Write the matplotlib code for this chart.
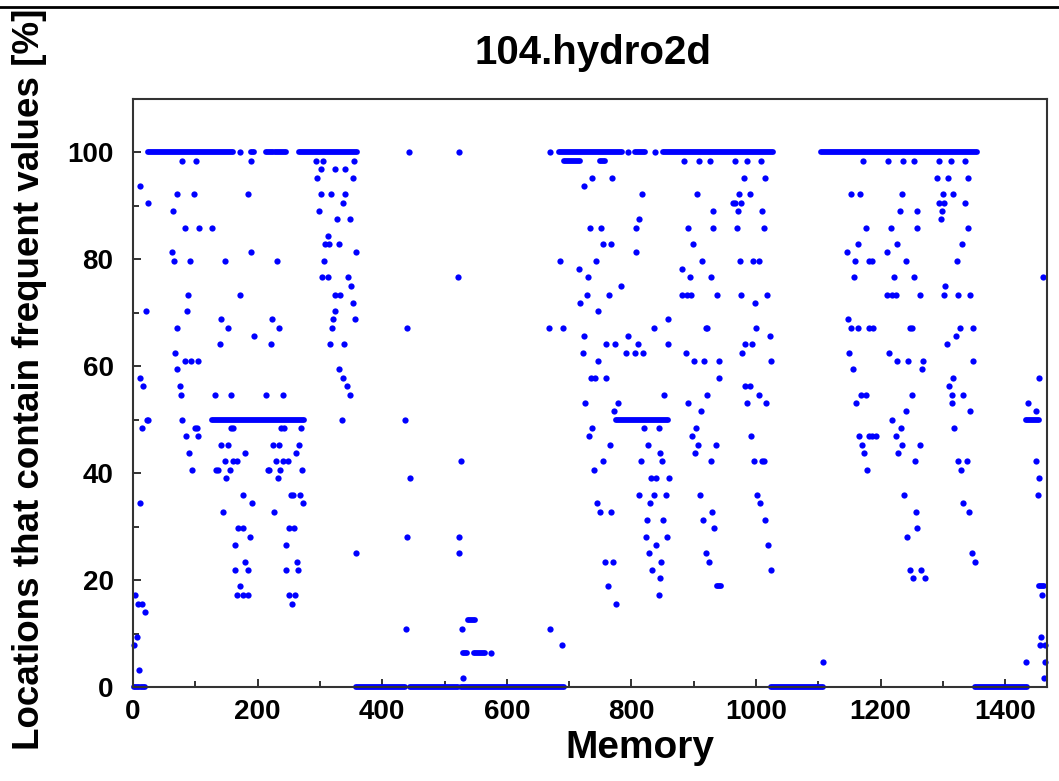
import matplotlib.pyplot as plt
from matplotlib.ticker import MultipleLocator
from matplotlib.lines import Line2D

# share of locations holding frequent values, grouped by level (k/64 steps)
pct_levels = [100.0, 98.4, 96.9, 95.3, 93.8, 92.2, 90.6, 89.1, 87.5, 85.9,
              84.4, 82.8, 81.3, 79.7, 78.1, 76.6, 75.0, 73.4, 71.9, 70.3,
              68.8, 67.2, 65.6, 64.1, 62.5, 60.9, 59.4, 57.8, 56.3, 54.7,
              53.1, 51.6, 50.0, 48.4, 46.9, 45.3, 43.8, 42.2, 40.6, 39.1,
              37.5, 35.9, 34.4, 32.8, 31.3, 29.7, 28.1, 26.6, 25.0, 23.4,
              21.9, 20.3, 18.8, 17.2, 15.6, 14.1, 12.5, 10.9, 9.4, 7.8,
              6.3, 4.7, 3.1, 1.6]

mem_by_level = [
    [171, 443, 524, 669, 795, 838],
    [79, 101, 190, 294, 305, 354, 885, 908, 926, 967, 986, 1008, 1171, 1212, 1236, 1254, 1294, 1313, 1335],
    [301, 324, 341],
    [295, 353, 737, 769, 981, 1014, 1291, 1308, 1341],
    [11, 724],
    [70, 98, 185, 302, 318, 341, 817, 905, 973, 990, 1153, 1167, 1235, 1300, 1317],
    [24, 337, 963, 966, 976, 1293, 1302, 1336],
    [64, 299, 931, 971, 1009, 1231, 1259, 1298],
    [328, 349, 813, 1297],
    [83, 106, 127, 734, 751, 808, 891, 931, 969, 1013, 1176, 1217, 1258, 1341],
    [313],
    [308, 315, 331, 755, 768, 899, 1163, 1226, 1331],
    [62, 189, 358, 808, 1146, 1210],
    [66, 92, 148, 231, 307, 686, 743, 913, 974, 995, 1005, 1159, 1182, 1186, 1240, 1322],
    [716, 882],
    [303, 313, 345, 521, 730, 894, 927, 1157, 1221, 1254, 1460],
    [350, 783, 1304],
    [89, 172, 325, 333, 728, 764, 882, 889, 896, 937, 976, 1018, 1210, 1218, 1225, 1263, 1301, 1325, 1344],
    [353, 718, 999],
    [21, 87, 325, 747],
    [142, 223, 321, 356, 859, 1147],
    [71, 153, 235, 320, 440, 667, 690, 836, 919, 922, 1000, 1153, 1164, 1182, 1188, 1247, 1250, 1327, 1349],
    [194, 724, 795, 1022, 1321],
    [140, 221, 316, 339, 760, 773, 810, 859, 982, 994, 1307],
    [67, 722, 792, 806, 819, 887, 978, 1150, 1213],
    [83, 93, 105, 747, 900, 917, 941, 1024, 1227, 1244, 1268, 1349],
    [71, 330, 1155, 1267],
    [11, 337, 735, 742, 760, 940, 1316, 1454],
    [16, 75, 343, 983, 991, 1310],
    [77, 132, 157, 214, 240, 348, 853, 922, 1005, 1168, 1177, 1250, 1314, 1333],
    [726, 779, 891, 986, 1016, 1160, 1314, 1437],
    [772, 912, 1240, 1344, 1450],
    [22, 24, 79, 335, 437, 1219],
    [15, 99, 102, 158, 160, 238, 242, 269, 736, 821, 844, 904, 1233, 1318],
    [85, 104, 732, 897, 992, 1165, 1181, 1186, 1192, 1225],
    [142, 152, 224, 234, 266, 766, 826, 907, 935, 1170, 1234, 1263],
    [90, 180, 262, 846, 902, 1173, 1228],
    [147, 160, 167, 229, 241, 249, 527, 754, 816, 849, 927, 997, 1010, 1013, 1255, 1324, 1338, 1450],
    [95, 134, 137, 155, 216, 219, 236, 271, 740, 1178, 1329],
    [150, 232, 445, 832, 840, 861, 1454],
    [],
    [176, 253, 257, 268, 813, 836, 855, 910, 1001, 1237, 1452],
    [12, 191, 273, 744, 830, 1006, 1333],
    [145, 227, 749, 768, 930, 1257, 1342],
    [825, 851, 915, 1015],
    [169, 176, 251, 258, 933, 1259],
    [188, 440, 524, 823, 857, 1242],
    [164, 246, 839, 1020],
    [358, 523, 829, 919, 1347],
    [180, 263, 758, 770, 848, 925, 1352],
    [163, 184, 245, 265, 833, 1024, 1247, 1265],
    [846, 1252, 1271],
    [172, 762],
    [3, 167, 177, 185, 250, 260, 844, 1459],
    [8, 15, 255, 775],
    [20],
    [],
    [438, 528, 669],
    [7, 1458],
    [2, 688, 1456, 1464],
    [574],
    [1107, 1433, 1464],
    [9],
    [529, 1462],
]

# long stretches of consecutive addresses sharing one value
run_pct = [100, 100, 100, 100, 100, 100, 100, 100, 100,
           98.4, 98.4, 50, 50, 50, 18.8, 18.8, 12.5, 6.3, 6.3,
           0, 0, 0, 0, 0, 0, 0]
run_start = [24, 190, 213, 228, 266, 684, 806, 850, 1105,
             692, 749, 126, 775, 1434, 937, 1454, 537, 529, 547,
             1, 13, 358, 444, 526, 1024, 1352]
run_end = [160, 195, 224, 245, 360, 785, 822, 1028, 1355,
           717, 758, 274, 858, 1454, 944, 1463, 549, 536, 565,
           10, 19, 437, 521, 692, 1107, 1435]

mem = [m for lvl, ms in zip(pct_levels, mem_by_level) for m in ms]
pct = [lvl for lvl, ms in zip(pct_levels, mem_by_level) for m in ms]

plt.rcParams['font.family'] = ['Liberation Sans', 'DejaVu Sans']
plt.rcParams['font.weight'] = 'bold'

fig = plt.figure(figsize=(10.59, 7.81), dpi=100)
ax = fig.add_axes([0.1256, 0.1204, 0.863, 0.7529])

ax.plot(mem, pct, linestyle='none', marker='o', markersize=4.5,
        markerfacecolor='#0000ff', markeredgecolor='none', clip_on=False)
runs = ax.hlines(run_pct, run_start, run_end, colors='#0000ff', linewidth=4.2,
                 clip_on=False)
runs.set_capstyle('round')

ax.set_xlim(0, 1467)
ax.set_ylim(0, 110)
ax.set_xticks([0, 200, 400, 600, 800, 1000, 1200, 1400])
ax.set_yticks([0, 20, 40, 60, 80, 100])
ax.xaxis.set_minor_locator(MultipleLocator(100))
ax.yaxis.set_minor_locator(MultipleLocator(10))
ax.tick_params(which='both', direction='in', width=1.3, colors='#222222')
ax.tick_params(which='major', length=6, labelsize=20, labelcolor='black')
ax.tick_params(which='minor', length=4)
ax.tick_params(axis='x', pad=9)
ax.tick_params(axis='y', pad=14)
for lab in ax.get_xticklabels() + ax.get_yticklabels():
    lab.set_fontweight('bold')
for side in ['left', 'bottom', 'top', 'right']:
    ax.spines[side].set_linewidth(1.5)
    ax.spines[side].set_color('#333333')

fig.text(593 / 1059, 1 - 64 / 781, '104.hydro2d', fontsize=29, fontweight='bold',
         ha='center', va='baseline')
fig.text(640 / 1059, 1 - 758 / 781, 'Memory', fontsize=28, fontweight='bold',
         ha='center', va='baseline')
fig.text(30 / 1059, 1 - 379 / 781, 'Locations that contain frequent values [%]',
         fontsize=26.5, fontweight='bold', rotation=90, ha='center', va='center')

fig.add_artist(Line2D([0, 1], [1 - 7 / 781, 1 - 7 / 781], color='black',
                      linewidth=2, transform=fig.transFigure))

fig.savefig('out.png', dpi=100)
